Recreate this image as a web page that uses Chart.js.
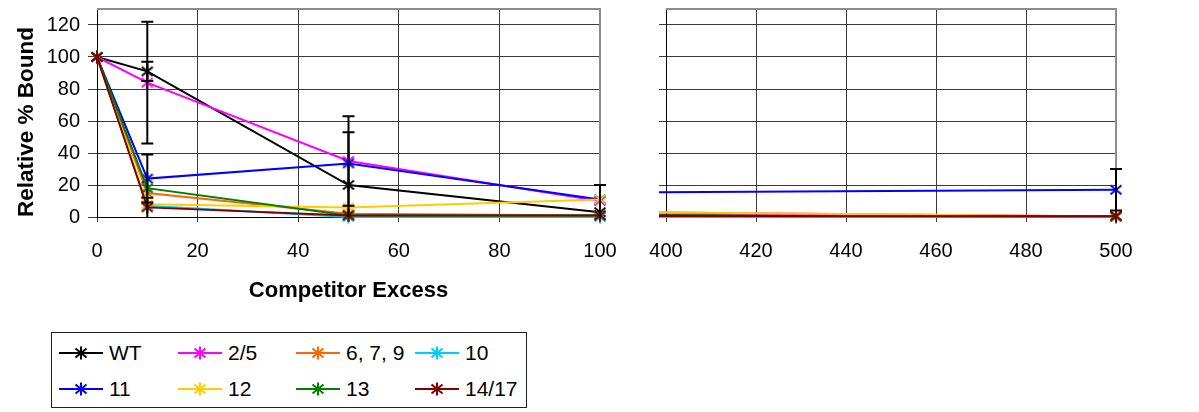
<!DOCTYPE html>
<html>
<head>
<meta charset="utf-8">
<script src="https://cdn.jsdelivr.net/npm/chart.js"></script>
<style>
  body { margin: 0; background: #fff; font-family: "Liberation Sans", Arial, sans-serif; }
  #wrap { position: relative; width: 1199px; height: 412px; }
  #left { position: absolute; left: 0; top: 0; }
  #right { position: absolute; left: 620px; top: 0; }
  #legend { position: absolute; left: 51px; top: 332px; width: 474px; height: 74px; border: 1px solid #222; }
  .item { position: absolute; height: 24px; display: flex; align-items: center; font-size: 21px; color: #000; }
  .item canvas { margin-right: 6px; }
</style>
</head>
<body>
<div id="wrap">
  <canvas id="left" width="630" height="310"></canvas>
  <canvas id="right" width="579" height="271"></canvas>
  <div id="legend"></div>
</div>
<script>
// competitor excess (x) values
const xValues = [0, 10, 50, 100, 500];
const seriesNames = ["WT", "2/5", "6, 7, 9", "10", "11", "12", "13", "14/17"];
const seriesColors = ["#000000", "#ff00ff", "#ff6600", "#00ccff", "#0000ff", "#ffcc00", "#008000", "#800000"];

// relative % bound
const wt    = [100, 91, 20, 3, 0.5];
const s25   = [100, 84, 35, 10, 0.3];
const s679  = [100, 15, 2, 1, 0.5];
const s10   = [100, 7, 0, 0, 0];
const s11   = [100, 24, 33.5, 11, 17];
const s12   = [100, 8, 6, 11, 0.3];
const s13   = [100, 18, 1, 1, 0.5];
const s1417 = [100, 6, 1, 1, 0.5];
const series = [wt, s25, s679, s10, s11, s12, s13, s1417];

// error bar half-widths (+/-)
const wtErr    = [0, 6, 33, 17, 0];
const s25Err   = [0, 38, 28, 10, 0];
const s11Err   = [0, 15, 0, 0, 13];
const s1417Err = [0, 6, 0, 0, 0];
const errors = [wtErr, s25Err, null, null, s11Err, null, null, s1417Err];

const yTicks = [0, 20, 40, 60, 80, 100, 120];

Chart.defaults.font.family = '"Liberation Sans", Arial, sans-serif';
Chart.defaults.color = "#000";

function starMarker(color) {
  const c = document.createElement("canvas");
  c.width = c.height = 14;
  const g = c.getContext("2d");
  g.strokeStyle = color;
  g.lineWidth = 2;
  g.beginPath();
  g.moveTo(7, 0.5); g.lineTo(7, 13.5);
  g.moveTo(1.5, 2.5); g.lineTo(12.5, 11.5);
  g.moveTo(12.5, 2.5); g.lineTo(1.5, 11.5);
  g.stroke();
  return c;
}

const markers = seriesColors.map(starMarker);

function makeDatasets() {
  return series.map((vals, i) => ({
    label: seriesNames[i],
    data: vals.map((v, j) => ({ x: xValues[j], y: v })),
    borderColor: seriesColors[i],
    backgroundColor: seriesColors[i],
    borderWidth: 2,
    pointStyle: markers[i],
    pointRadius: 7,
    showLine: true,
    clip: 7,
    order: series.length - i
  }));
}

// gray frame on top and right of the plot area
const frame = {
  id: "frame",
  beforeDatasetsDraw(chart) {
    const { ctx, chartArea: a } = chart;
    ctx.save();
    ctx.strokeStyle = "#8c8c8c";
    ctx.lineWidth = 2;
    ctx.beginPath();
    ctx.moveTo(a.left, a.top);
    ctx.lineTo(a.right, a.top);
    ctx.lineTo(a.right, a.bottom);
    ctx.stroke();
    ctx.restore();
  }
};

const errorBars = {
  id: "errorBars",
  afterDatasetsDraw(chart) {
    const { ctx, chartArea: a, scales: { x, y } } = chart;
    ctx.save();
    ctx.beginPath();
    ctx.rect(a.left - 8, a.top, a.right - a.left + 16, a.bottom - a.top + 1);
    ctx.clip();
    ctx.strokeStyle = "#000";
    ctx.lineWidth = 2;
    errors.forEach((errs, i) => {
      if (!errs) return;
      errs.forEach((e, j) => {
        if (!e) return;
        const px = x.getPixelForValue(xValues[j]);
        if (px < a.left - 1 || px > a.right + 1) return;
        const v = series[i][j];
        const top = y.getPixelForValue(v + e);
        const bot = y.getPixelForValue(Math.max(v - e, 0));
        ctx.beginPath();
        ctx.moveTo(px, top);
        ctx.lineTo(px, bot);
        ctx.moveTo(px - 6, top);
        ctx.lineTo(px + 6, top);
        if (v - e > 0) {
          ctx.moveTo(px - 6, bot);
          ctx.lineTo(px + 6, bot);
        }
        ctx.stroke();
      });
    });
    ctx.restore();
  }
};

function noPad(s) {
  s.paddingTop = s.paddingBottom = s.paddingLeft = s.paddingRight = 0;
}

function makeChart(id, xMin, xMax, opts) {
  const canvas = document.getElementById(id);
  return new Chart(canvas, {
    type: "scatter",
    data: { datasets: makeDatasets() },
    options: {
      responsive: false,
      animation: false,
      layout: { padding: { top: 7, right: opts.padRight, left: 0, bottom: 0 } },
      plugins: { legend: { display: false }, tooltip: { enabled: false } },
      scales: {
        x: {
          type: "linear",
          min: xMin,
          max: xMax,
          afterFit: s => { s.height = canvas.height - 217; noPad(s); },
          ticks: { stepSize: 20, font: { size: 20 }, padding: 17, maxRotation: 0 },
          grid: { color: "#3a3a3a", lineWidth: 1, tickLength: 5 },
          border: { color: "#000", width: 1 },
          title: opts.xTitle ? {
            display: true, text: "Competitor Excess",
            font: { size: 22, weight: "bold" }, padding: { top: 0, bottom: 6 }
          } : { display: false }
        },
        y: {
          min: 0,
          max: 130,
          afterFit: s => { s.width = opts.yWidth; noPad(s); },
          afterBuildTicks: s => { s.ticks = yTicks.map(v => ({ value: v })); },
          ticks: {
            font: { size: 20 }, padding: 8,
            callback: v => opts.yLabels ? v : ""
          },
          grid: { color: "#3a3a3a", lineWidth: 1, tickLength: opts.yTick },
          border: { color: "#000", width: 1 },
          title: opts.yTitle ? {
            display: true, text: "Relative % Bound", align: "start",
            font: { size: 22.5, weight: "bold" }, padding: { top: 13, bottom: 0 }
          } : { display: false }
        }
      }
    },
    plugins: [frame, errorBars]
  });
}

makeChart("left", 0, 100, { padRight: 30, yWidth: 97, yTick: 9, yLabels: true, xTitle: true, yTitle: true });
makeChart("right", 400, 500, { padRight: 83, yWidth: 46, yTick: 7, yLabels: false, xTitle: false, yTitle: false });

// legend below the left panel
const legend = document.getElementById("legend");
const colX = [7, 126, 244, 363];
const rowY = [8, 44];
seriesNames.forEach((name, i) => {
  const item = document.createElement("div");
  item.className = "item";
  item.style.left = colX[i % 4] + "px";
  item.style.top = rowY[Math.floor(i / 4)] + "px";
  const c = document.createElement("canvas");
  c.width = 44; c.height = 16;
  const g = c.getContext("2d");
  g.strokeStyle = seriesColors[i];
  g.lineWidth = 2;
  g.beginPath();
  g.moveTo(0, 8); g.lineTo(44, 8);
  g.stroke();
  g.drawImage(markers[i], 22 - 7, 8 - 7);
  item.appendChild(c);
  item.appendChild(document.createTextNode(name));
  legend.appendChild(item);
});
</script>
</body>
</html>
